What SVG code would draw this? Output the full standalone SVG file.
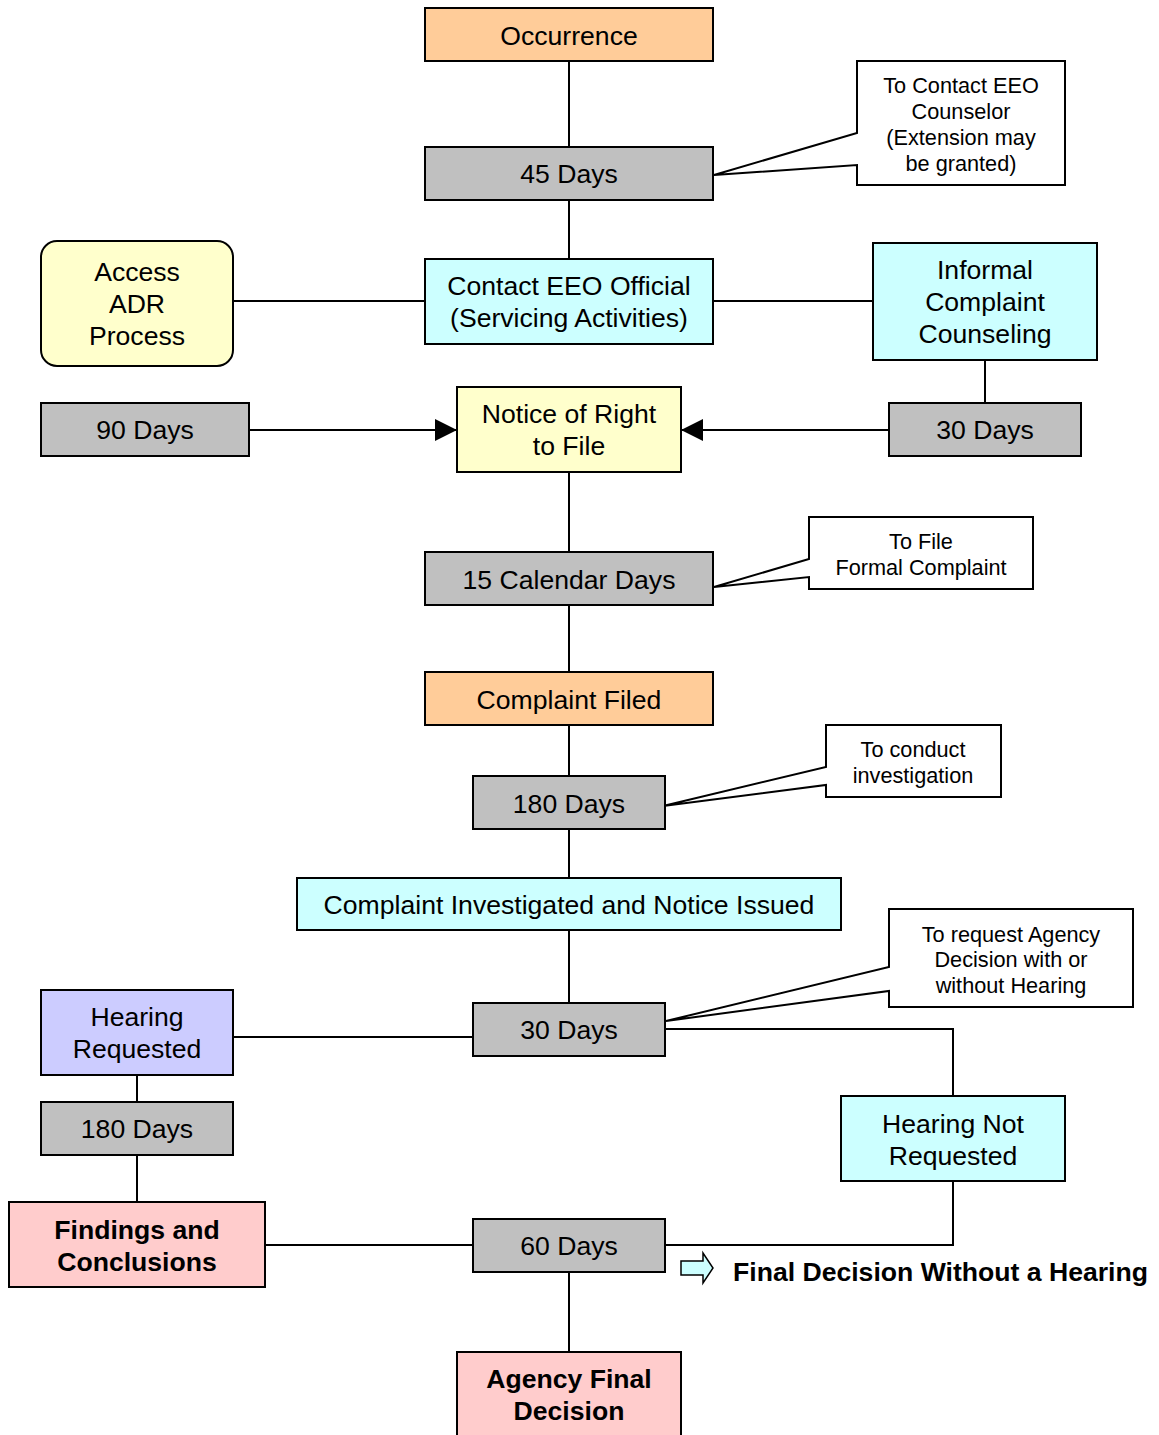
<svg xmlns="http://www.w3.org/2000/svg" width="1159" height="1435" viewBox="0 0 1159 1435">
<defs>
<style>
.box{stroke:#000;stroke-width:2}
.peach{fill:#FFCC99}.gray{fill:#C0C0C0}.cyan{fill:#CCFFFF}.yellow{fill:#FFFFCC}.lav{fill:#CCCCFF}.pink{fill:#FFCCCC}
.t{font-family:"Liberation Sans",Arial,sans-serif;font-size:26.6px;text-anchor:middle;fill:#000}
.b{font-weight:bold}
.c{font-family:"Liberation Sans",Arial,sans-serif;font-size:21.7px;text-anchor:middle;fill:#000}
.call{fill:#fff;stroke:#000;stroke-width:2;stroke-linejoin:miter}
.ln{fill:none;stroke:#000;stroke-width:2}
</style>
<marker id="ah2" viewBox="0 0 20 20" refX="20" refY="10" markerWidth="22" markerHeight="22" markerUnits="userSpaceOnUse" orient="auto">
<path d="M0,0 L20,10 L0,20 Z" fill="#000"/>
</marker>
</defs>
<rect width="1159" height="1435" fill="#fff"/>

<g id="connectors">
<path class="ln" d="M569,61 V147"/>
<path class="ln" d="M569,200 V259"/>
<path class="ln" d="M233,301 H425"/>
<path class="ln" d="M713,301 H873"/>
<path class="ln" d="M985,360 V403"/>
<path class="ln" d="M249,430 H457" marker-end="url(#ah2)"/>
<path class="ln" d="M889,430 H681" marker-end="url(#ah2)"/>
<path class="ln" d="M569,472 V552"/>
<path class="ln" d="M569,605 V672"/>
<path class="ln" d="M569,725 V776"/>
<path class="ln" d="M569,829 V878"/>
<path class="ln" d="M569,930 V1003"/>
<path class="ln" d="M233,1037 H473"/>
<path class="ln" d="M665,1029 H953 V1096"/>
<path class="ln" d="M137,1075 V1102"/>
<path class="ln" d="M137,1155 V1202"/>
<path class="ln" d="M265,1245 H473"/>
<path class="ln" d="M953,1181 V1245 H665"/>
<path class="ln" d="M569,1272 V1352"/>
</g>

<g id="occurrence"><rect class="box peach" x="425" y="8" width="288" height="53"/><text class="t" x="569" y="45">Occurrence</text></g>
<g id="days45"><rect class="box gray" x="425" y="147" width="288" height="53"/><text class="t" x="569" y="183">45 Days</text></g>
<g id="callout-contact"><path class="call" d="M857,61 H1065 V185 H857 V165 L714,175 L857,133 Z"/>
<text class="c" x="961" y="93">To Contact EEO</text><text class="c" x="961" y="119">Counselor</text><text class="c" x="961" y="145">(Extension may</text><text class="c" x="961" y="171">be granted)</text></g>
<g id="adr"><rect class="box yellow" x="41" y="241" width="192" height="125" rx="16"/>
<text class="t" x="137" y="281">Access</text><text class="t" x="137" y="313">ADR</text><text class="t" x="137" y="345">Process</text></g>
<g id="contact"><rect class="box cyan" x="425" y="259" width="288" height="85"/>
<text class="t" x="569" y="295">Contact EEO Official</text><text class="t" x="569" y="327">(Servicing Activities)</text></g>
<g id="informal"><rect class="box cyan" x="873" y="243" width="224" height="117"/>
<text class="t" x="985" y="279">Informal</text><text class="t" x="985" y="311">Complaint</text><text class="t" x="985" y="343">Counseling</text></g>
<g id="days90"><rect class="box gray" x="41" y="403" width="208" height="53"/><text class="t" x="145" y="439">90 Days</text></g>
<g id="notice"><rect class="box yellow" x="457" y="387" width="224" height="85"/>
<text class="t" x="569" y="423">Notice of Right</text><text class="t" x="569" y="455">to File</text></g>
<g id="days30a"><rect class="box gray" x="889" y="403" width="192" height="53"/><text class="t" x="985" y="439">30 Days</text></g>
<g id="callout-file"><path class="call" d="M809,517 H1033 V589 H809 V577 L714,587 L809,559 Z"/>
<text class="c" x="921" y="549">To File</text><text class="c" x="921" y="575">Formal Complaint</text></g>
<g id="days15"><rect class="box gray" x="425" y="552" width="288" height="53"/><text class="t" x="569" y="589">15 Calendar Days</text></g>
<g id="filed"><rect class="box peach" x="425" y="672" width="288" height="53"/><text class="t" x="569" y="709">Complaint Filed</text></g>
<g id="callout-invest"><path class="call" d="M826,725 H1001 V797 H826 V785 L663,806 L826,767 Z"/>
<text class="c" x="913" y="757">To conduct</text><text class="c" x="913" y="783">investigation</text></g>
<g id="days180a"><rect class="box gray" x="473" y="776" width="192" height="53"/><text class="t" x="569" y="813">180 Days</text></g>
<g id="investigated"><rect class="box cyan" x="297" y="878" width="544" height="52"/><text class="t" x="569" y="914">Complaint Investigated and Notice Issued</text></g>
<g id="callout-request"><path class="call" d="M889,909 H1133 V1007 H889 V991 L666,1021 L889,967 Z"/>
<text class="c" x="1011" y="942">To request Agency</text><text class="c" x="1011" y="967">Decision with or</text><text class="c" x="1011" y="993">without Hearing</text></g>
<g id="hearing-req"><rect class="box lav" x="41" y="990" width="192" height="85"/>
<text class="t" x="137" y="1026">Hearing</text><text class="t" x="137" y="1058">Requested</text></g>
<g id="days30b"><rect class="box gray" x="473" y="1003" width="192" height="53"/><text class="t" x="569" y="1039">30 Days</text></g>
<g id="days180b"><rect class="box gray" x="41" y="1102" width="192" height="53"/><text class="t" x="137" y="1138">180 Days</text></g>
<g id="hearing-not"><rect class="box cyan" x="841" y="1096" width="224" height="85"/>
<text class="t" x="953" y="1133">Hearing Not</text><text class="t" x="953" y="1165">Requested</text></g>
<g id="findings"><rect class="box pink" x="9" y="1202" width="256" height="85"/>
<text class="t b" x="137" y="1239">Findings and</text><text class="t b" x="137" y="1271">Conclusions</text></g>
<g id="days60"><rect class="box gray" x="473" y="1219" width="192" height="53"/><text class="t" x="569" y="1255">60 Days</text></g>
<g id="final-no-hearing"><path d="M681,1261 H703 V1253 L713,1268 L703,1283 V1275 H681 Z" fill="#CCFFFF" stroke="#000" stroke-width="1.5"/>
<text class="t b" x="733" y="1281" style="text-anchor:start">Final Decision Without a Hearing</text></g>
<g id="agency-final"><rect class="box pink" x="457" y="1352" width="224" height="100"/>
<text class="t b" x="569" y="1388">Agency Final</text><text class="t b" x="569" y="1420">Decision</text></g>
</svg>
